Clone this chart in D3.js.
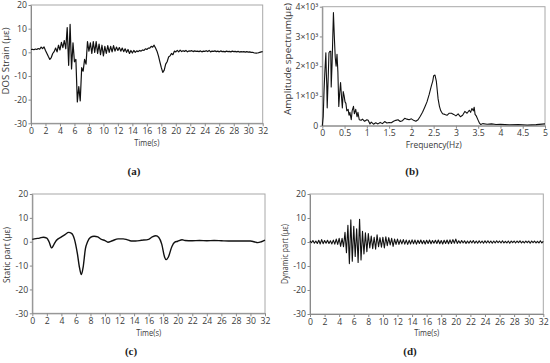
<!DOCTYPE html>
<html><head><meta charset="utf-8">
<script src="https://cdn.jsdelivr.net/npm/d3@7"></script>
<style>body{margin:0;background:#fff}svg{display:block}</style>
</head><body>
<svg id="c" width="550" height="363"></svg>
<script>
// ---- data ----
const timeStep = 0.2; // sampling grid of the time records (s)
const timeTicks = [0,2,4,6,8,10,12,14,16,18,20,22,24,26,28,30,32];
const strainTicks = [-30,-20,-10,0,10,20];
const freqTicks = [0,0.5,1,1.5,2,2.5,3,3.5,4,4.5,5];
const freqTickLabels = ["0","0.5","1","1.5","2","2.5","3","3.5","4","4.5","5"];
const ampTicks = [0,1000,2000,3000,4000];
const ampTickLabels = ["0","1×10³","2×10³","3×10³","4×10³"];

// (a) raw DOS strain, sampled every 0.2 s from 0 to 32 s
const rawStrain = [
 1.2,1.3,1.1,1.4,1.2,1.6,1.3,2.2,1.6,2.3,
 0.8,-0.5,-1.8,-3.0,-2.2,-0.5,0.3,1.8,0.2,3.0,
 1.0,4.2,2.0,5.0,1.5,10.5,-5.5,11.8,-7.0,4.0,
 -4.0,-3.0,-21.0,-14.5,-20.5,-6.5,-8.0,-3.0,-5.0,4.5,
 0.5,4.0,-0.5,4.5,0.0,4.5,-0.5,3.5,-1.0,3.0,
 -1.5,2.5,-0.5,2.8,0.0,2.5,0.2,2.8,0.5,2.2,
 0.8,2.0,0.5,1.8,0.3,1.5,0.0,1.2,-0.5,0.8,
 -0.3,0.8,0.0,0.6,0.3,0.8,0.5,1.0,0.8,1.5,
 1.2,1.8,1.8,2.5,2.2,3.0,1.8,0.5,-1.5,-4.0,
 -6.5,-8.5,-7.5,-5.0,-4.0,-2.0,-1.5,-0.5,-1.0,0.5,
 0.2,
 0.8,0.2,0.9,0.3,0.7,0.4,0.8,0.2,0.6,0.5,0.7,0.3,0.6,0.4,0.5,0.3,0.6,0.2,0.5,0.4,
 0.7,0.3,0.8,0.2,0.5,0.4,0.6,0.3,0.5,0.2,0.6,0.3,0.4,0.2,0.5,0.3,0.4,0.2,0.5,0.3,
 0.4,0.2,0.4,0.1,0.3,0.2,0.3,0.1,0.3,0.1,0.2,0.0,0.0,-0.2,-0.3,-0.3,-0.2,0.0,0.2,0.3
];

// (b) amplitude spectrum
const freqs = [0,0.02,0.04,0.06,0.08,0.09,0.1,0.11,0.13,0.15,0.17,0.19,0.2,0.22,0.25,0.27,0.29,0.31,0.33,0.35,0.37,0.39,0.41,0.43,0.45,0.47,0.49,0.51,0.53,0.55,0.58,0.6,0.62,0.65,0.67,0.7,0.72,0.75,0.78,0.8,0.83,0.87,0.9,0.95,1.0,1.03,1.07,1.1,1.15,1.2,1.25,1.3,1.35,1.4,1.45,1.5,1.55,1.6,1.65,1.7,1.75,1.8,1.85,1.9,1.95,2.0,2.05,2.1,2.15,2.2,2.25,2.3,2.35,2.4,2.45,2.48,2.5,2.53,2.56,2.58,2.6,2.63,2.66,2.7,2.75,2.8,2.85,2.9,2.95,3.0,3.05,3.1,3.15,3.2,3.25,3.3,3.33,3.36,3.39,3.41,3.43,3.46,3.5,3.53,3.56,3.6,3.7,3.8,3.9,4.0,4.2,4.4,4.6,4.8,5.0];
const amps = [0,300,1200,1900,2450,1800,1400,600,1500,2450,2500,2500,1300,2100,3800,3000,2300,2000,2400,1800,650,1100,1450,1000,600,1150,1000,800,750,500,550,350,450,200,500,650,400,550,300,450,200,180,220,150,200,180,60,120,50,100,60,110,70,140,90,110,100,150,180,200,140,170,250,220,200,230,180,150,200,320,450,620,800,1050,1350,1500,1680,1700,1500,1200,900,650,500,400,380,350,420,420,380,330,400,300,350,480,420,520,450,580,500,620,380,320,180,80,40,70,50,60,40,45,30,40,25,35,60];

// (c) static part
const staticTimes = [0,0.5,1,1.5,2,2.3,2.66,3,3.3,4,4.5,5,5.4,5.8,6.2,6.5,6.75,7.0,7.3,7.6,8.0,8.5,9.0,9.5,10.0,10.4,11,11.8,12.5,13,13.6,14.2,15,16,16.5,17,17.4,17.8,18.2,18.4,18.7,19.2,19.6,20,20.6,21,22,23,24,25,26,27,28,29,30,30.5,31,31.5,32];
const staticValues = [1.0,1.3,1.5,1.9,1.5,0.0,-2.6,-1.0,0.5,2.0,3.0,3.9,3.5,1.0,-5.0,-11.0,-13.8,-10.5,-3.0,0.0,1.8,2.3,2.0,1.0,0.5,-0.2,0.4,1.2,1.2,0.9,0.3,0.3,0.6,1.0,2.0,2.5,1.8,-1.0,-6.5,-7.5,-6.5,-2.0,-0.2,0.2,0.8,0.5,0.4,0.5,0.4,0.5,0.4,0.3,0.3,0.3,0.3,0.0,-0.4,0.0,0.7];

// (d) dynamic part, sampled every 0.2 s from 0 to 32 s
const dynamicValues = [
 0.5,-0.3,0.6,-0.5,0.4,-0.6,0.7,-0.8,1.0,-0.7,0.6,-0.5,0.7,-0.6,0.5,-0.8,0.8,-0.9,1.2,-1.0,1.5,
 -1.8,1.5,-2,4,-4.5,7,-9,9.2,-8,6.5,-6,5.5,-8.5,9.5,-7.5,4.5,-5,3.8,-4,3.5,
 -2.5,2.5,-2.8,2,-3,3,-2,1.8,-2.2,2,-2.5,2.2,-1.5,1.8,-1.2,1.5,-1.8,1.2,-1,1.2,
 -1.0,0.9,-0.8,1.0,-0.9,0.8,-1.0,0.7,-0.8,0.9,-0.7,0.8,-0.9,0.7,-0.6,0.8,-0.7,0.6,-0.8,0.7,
 -0.6,0.8,-0.7,0.6,-0.5,0.7,-0.6,0.8,-0.7,0.6,-0.8,0.7,-0.6,0.8,-0.7,0.9,-0.6,1.0,-0.5,1.2,
 -0.6,0.5,-0.5,0.6,-0.4,0.5,-0.6,0.4,-0.5,0.5,-0.4,0.6,-0.5,0.4,-0.5,0.5,-0.4,0.4,-0.5,0.5,
 -0.4,0.5,-0.4,0.4,-0.5,0.4,-0.4,0.5,-0.3,0.4,-0.4,0.5,-0.4,0.3,-0.4,0.4,-0.5,0.4,-0.3,0.4,
 -0.4,0.4,-0.3,0.5,-0.4,0.3,-0.4,0.4,-0.3,0.4,-0.5,0.4,-0.3,0.4,-0.4,0.3,-0.4,0.5,-0.4,0.3
];

// ---- drawing ----
const svg = d3.select("#c");
const FONT = "'Open Sans', sans-serif";
const TXT = "#3a3a3a";

function panel(o) {
  const x = d3.scaleLinear().domain(o.xDomain).range([o.x0, o.x1]);
  const y = d3.scaleLinear().domain(o.yDomain).range([o.y1, o.y0]);
  const g = svg.append("g");
  g.append("rect").attr("x", o.x0).attr("y", o.y0)
    .attr("width", o.x1 - o.x0).attr("height", o.y1 - o.y0)
    .attr("fill", "none").attr("stroke", "#a8a8a8").attr("stroke-width", 1);

  const gx = g.append("g").attr("transform", `translate(0,${o.y1})`)
    .call(d3.axisBottom(x).tickValues(o.xTicks).tickSize(3).tickSizeOuter(0).tickPadding(1.5)
      .tickFormat((d, i) => o.xLabels ? o.xLabels[i] : String(d)));
  const gy = g.append("g").attr("transform", `translate(${o.x0},0)`)
    .call(d3.axisLeft(y).tickValues(o.yTicks).tickSize(2.5).tickSizeOuter(0).tickPadding(1.5)
      .tickFormat((d, i) => o.yLabels ? o.yLabels[i] : String(d)));
  [gx, gy].forEach(a => {
    a.select(".domain").attr("stroke", "#8a8a8a");
    a.selectAll(".tick line").attr("stroke", "#8a8a8a");
    a.selectAll("text").attr("font-family", FONT).attr("font-size", 8.7).attr("fill", TXT);
  });

  const line = d3.line().x(d => x(d[0])).y(d => y(d[1]));
  if (o.curve) line.curve(o.curve);
  g.append("path").datum(o.data).attr("d", line)
    .attr("fill", "none").attr("stroke", "#111").attr("stroke-width", o.sw || 1.1)
    .attr("stroke-linejoin", "round");

  g.append("text").attr("x", (o.x0 + o.x1) / 2).attr("y", o.xTitleY)
    .attr("text-anchor", "middle").attr("dominant-baseline", "middle")
    .attr("font-family", FONT).attr("font-size", 8.7).attr("fill", TXT)
    .attr("textLength", o.xTitleLen).attr("lengthAdjust", "spacingAndGlyphs").text(o.xTitle);
  g.append("text").attr("transform", `translate(${o.yTitleX},${o.yTitleY}) rotate(-90)`)
    .attr("text-anchor", "middle").attr("dominant-baseline", "middle")
    .attr("font-family", FONT).attr("font-size", 8.7).attr("fill", TXT)
    .attr("textLength", o.yTitleLen).attr("lengthAdjust", "spacingAndGlyphs").text(o.yTitle);
  g.append("text").attr("x", o.capX).attr("y", o.capY)
    .attr("text-anchor", "middle").attr("dominant-baseline", "middle")
    .attr("font-family", "'Liberation Serif', serif").attr("font-size", 11).attr("font-weight", "bold")
    .attr("fill", "#222").text(o.cap);
}

const rawData = rawStrain.map((v, i) => [i * timeStep, v]);
const specData = freqs.map((f, i) => [f, amps[i]]);
const staticData = staticTimes.map((t, i) => [t, staticValues[i]]);
const dynData = dynamicValues.map((v, i) => [i * timeStep, v]);

panel({x0: 31, x1: 262.7, y0: 5, y1: 123.3, xDomain: [0, 32], yDomain: [-30, 20],
  xTicks: timeTicks, yTicks: strainTicks, data: rawData,
  xTitle: "Time(s)", xTitleY: 144, xTitleLen: 25,
  yTitle: "DOS Strain (με)", yTitleX: 6.5, yTitleY: 61, yTitleLen: 67,
  cap: "(a)", capX: 134, capY: 172, sw: 1.2});

panel({x0: 322.3, x1: 545, y0: 6.7, y1: 125.7, xDomain: [0, 5], yDomain: [0, 4000],
  xTicks: freqTicks, xLabels: freqTickLabels, yTicks: ampTicks, yLabels: ampTickLabels, data: specData,
  xTitle: "Frequency(Hz)", xTitleY: 146, xTitleLen: 56,
  yTitle: "Amplitude spectrum(με)", yTitleX: 289, yTitleY: 59, yTitleLen: 112,
  cap: "(b)", capX: 412, capY: 172, sw: 1.1});

panel({x0: 32.3, x1: 265, y0: 194, y1: 313.3, xDomain: [0, 32], yDomain: [-30, 20],
  xTicks: timeTicks, yTicks: strainTicks, data: staticData, curve: d3.curveMonotoneX,
  xTitle: "Time(s)", xTitleY: 334, xTitleLen: 25,
  yTitle: "Static part (με)", yTitleX: 8, yTitleY: 255, yTitleLen: 56,
  cap: "(c)", capX: 131, capY: 352, sw: 1.4});

panel({x0: 310, x1: 543.3, y0: 194, y1: 314, xDomain: [0, 32], yDomain: [-30, 20],
  xTicks: timeTicks, yTicks: strainTicks, data: dynData,
  xTitle: "Time(s)", xTitleY: 334, xTitleLen: 25,
  yTitle: "Dynamic part (με)", yTitleX: 286, yTitleY: 254, yTitleLen: 60,
  cap: "(d)", capX: 410, capY: 352, sw: 1.1});
</script>
</body></html>
